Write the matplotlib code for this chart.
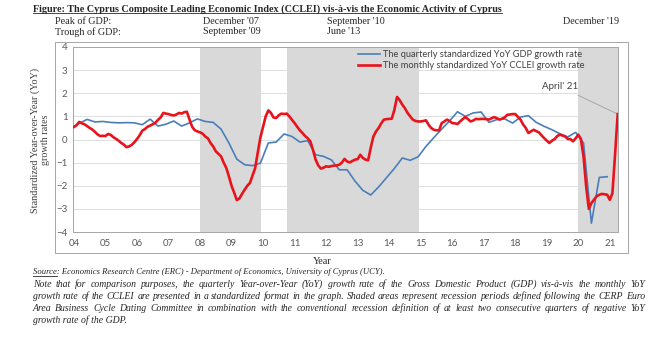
import numpy as np
import pandas as pd
import matplotlib
matplotlib.use("Agg")
import matplotlib.pyplot as plt
from matplotlib.patches import Rectangle
from matplotlib.lines import Line2D

# monthly standardized YoY CCLEI growth rate, Jan 2004 - Apr 2021
cclei = [
    0.54, 0.62, 0.76, 0.70, 0.66, 0.58, 0.50, 0.43, 0.33, 0.22, 0.15, 0.16,   # 2004
    0.15, 0.24, 0.20, 0.10, 0.03, -0.05, -0.15, -0.22, -0.33, -0.30, -0.23, -0.12,  # 2005
    0.02, 0.18, 0.38, 0.45, 0.55, 0.60, 0.66, 0.72, 0.85, 0.95, 1.15, 1.12,   # 2006
    1.10, 1.06, 1.04, 1.08, 1.15, 1.12, 1.18, 1.20, 0.86, 0.55, 0.40, 0.35,   # 2007
    0.31, 0.25, 0.13, 0.05, -0.15, -0.30, -0.51, -0.62, -0.73, -1.00, -1.23, -1.60,  # 2008
    -2.00, -2.30, -2.62, -2.55, -2.35, -2.17, -2.00, -1.88, -1.55, -1.23, -0.55, 0.10,  # 2009
    0.55, 1.00, 1.26, 1.15, 0.95, 0.93, 1.05, 1.12, 1.10, 1.12, 1.00, 0.85,   # 2010
    0.71, 0.55, 0.40, 0.28, 0.15, 0.05, -0.08, -0.45, -0.87, -1.12, -1.26, -1.22,  # 2011
    -1.16, -1.18, -1.15, -1.13, -1.12, -1.09, -1.00, -0.84, -0.95, -0.99, -0.93, -0.87,  # 2012
    -0.85, -0.66, -0.80, -0.87, -0.90, -0.35, 0.13, 0.35, 0.50, 0.70, 0.86, 0.88,  # 2013
    0.89, 0.90, 1.29, 1.84, 1.70, 1.51, 1.35, 1.15, 1.00, 0.86, 0.80, 0.78,   # 2014
    0.78, 0.80, 0.83, 0.64, 0.50, 0.42, 0.40, 0.39, 0.71, 0.78, 0.86, 0.80,   # 2015
    0.71, 0.70, 0.67, 0.78, 0.88, 0.97, 0.88, 0.78, 0.82, 0.89, 0.88, 0.89,   # 2016
    0.89, 0.88, 0.86, 0.92, 0.97, 0.92, 0.86, 0.90, 0.96, 1.07, 1.08, 1.10,   # 2017
    1.10, 0.98, 0.86, 0.65, 0.50, 0.28, 0.35, 0.42, 0.36, 0.31, 0.18, 0.06,   # 2018
    -0.05, -0.15, -0.05, 0.02, 0.15, 0.21, 0.17, 0.13, 0.02, 0.02, -0.08, 0.05,  # 2019
    0.21, 0.02, -0.73, -2.03, -3.00, -2.75, -2.60, -2.45, -2.39, -2.35, -2.37, -2.39,  # 2020
    -2.61, -2.32, -0.66, 1.10,  # 2021
]
cclei_months = pd.period_range("2004-01", periods=len(cclei), freq="M")

# quarterly standardized YoY GDP growth rate, Q4 2003 - Q4 2020
gdp = [
    0.50,
    0.70, 0.87, 0.76, 0.78,
    0.74, 0.72, 0.73, 0.72,
    0.64, 0.88, 0.58, 0.66,
    0.80, 0.58, 0.72, 0.89,
    0.78, 0.74, 0.45, -0.15,
    -0.85, -1.09, -1.13, -1.02,
    -0.15, -0.11, 0.24, 0.13,
    -0.11, -0.05, -0.66, -0.73,
    -0.88, -1.31, -1.31, -1.80,
    -2.20, -2.40, -2.05, -1.65,
    -1.25, -0.80, -0.90, -0.75,
    -0.30, 0.08, 0.45, 0.80,
    1.20, 1.00, 1.15, 1.19,
    0.74, 0.86, 0.89, 0.71,
    0.97, 1.03, 0.74, 0.57,
    0.42, 0.25, 0.11, 0.31,
    -0.15, -3.62, -1.64, -1.61,
]
gdp_quarters = pd.period_range("2003Q4", periods=len(gdp), freq="Q")

# recession periods (start month, end month)
recessions = [("2008-01", "2009-12"), ("2010-10", "2014-12"), ("2020-01", "2021-05")]

xticks = list(range(2004, 2022))
xticklabels = [f"{y % 100:02d}" for y in xticks]


def month_pos(p):
    return p.year + (p.month - 1) / 12.0


x_cclei = [month_pos(p) for p in cclei_months]
x_gdp = [month_pos(q.asfreq("M", how="end")) for q in gdp_quarters]

serif = ["Liberation Serif", "DejaVu Serif"]
sans = ["Lato", "DejaVu Sans"]
W, H = 660, 353

fig = plt.figure(figsize=(6.6, 3.53), dpi=100)
ax = fig.add_axes([73 / W, 1 - 232 / H, 545 / W, 185 / H])

for a, b in recessions:
    ax.axvspan(month_pos(pd.Period(a, "M")), month_pos(pd.Period(b, "M")) + 0.02,
               color="#d9d9d9", lw=0, zorder=0)

ax.plot(x_gdp, gdp, color="#4a7ebb", lw=1.2, zorder=3,
        label="The quarterly standardized YoY GDP growth rate")
ax.plot(x_cclei, cclei, color="#e8141c", lw=1.9, zorder=4,
        label="The monthly standardized YoY CCLEI growth rate")

ax.set_xlim(2003.97, 2021.26)
ax.set_ylim(-4, 4)
ax.set_yticks(range(-4, 5))
ax.set_xticks(xticks)
ax.set_xticklabels(xticklabels)
ax.yaxis.grid(True, color="#d9d9d9", lw=0.6)
ax.set_axisbelow(True)
ax.tick_params(length=0, labelsize=7, colors="#595959")
ax.tick_params(axis="y", pad=4)
ax.tick_params(axis="x", pad=5)
for lab in ax.get_xticklabels() + ax.get_yticklabels():
    lab.set_family(sans)
for s in ax.spines.values():
    s.set_color("#a6a6a6")
    s.set_linewidth(0.7)

leg = ax.legend(loc="upper left", bbox_to_anchor=((357 - 73) / 545, 1 - 2 / 185),
                frameon=False, borderpad=0.1, borderaxespad=0, handlelength=2.4,
                handletextpad=0.3, labelspacing=0.2, prop={"family": sans, "size": 6.7})
for t in leg.get_texts():
    t.set_color("#404040")

ax.annotate("April' 21", xy=(x_cclei[-1], cclei[-1]), xytext=(2020.0, 2.28),
            ha="right", va="center", fontsize=7, family=sans, color="#404040",
            arrowprops=dict(arrowstyle="-", color="#a0a0a0", lw=0.6, shrinkA=2, shrinkB=0))

# outer chart frame
fig.patches.append(Rectangle((55 / W, 1 - 253 / H), 573 / W, 211 / H, transform=fig.transFigure,
                             fill=False, edgecolor="#a6a6a6", lw=0.7))

fig.text(40 / W, 1 - 140 / H, "Standardized Year-over-Year (YoY)\ngrowth rates", rotation=90,
         ha="center", va="center", multialignment="center", fontsize=7.3, family=serif,
         color="#404040")
fig.text(322 / W, 1 - 262 / H, "Year", ha="center", va="center", fontsize=7.3,
         family=serif, color="#262626")

title = fig.text(33 / W, 1 - 9 / H,
                 "Figure: The Cyprus Composite Leading Economic Index (CCLEI) vis-à-vis the Economic Activity of Cyprus",
                 ha="left", va="center", fontsize=7.3, family=serif, weight="bold", color="#262626")

rows = [("Peak of GDP:", "December '07", "September '10", "December '19"),
        ("Trough of GDP:", "September '09", "June '13", "")]
for r, row in enumerate(rows):
    y = 1 - (21 + 11 * r) / H
    for x, s in zip([55, 203, 327, 563], row):
        fig.text(x / W, y, s, ha="left", va="center", fontsize=7.3, family=serif, color="#262626")

src = "Source: Economics Research Centre (ERC) - Department of Economics, University of Cyprus (UCY)."
notes = [
    "Note that for comparison purposes, the quarterly Year-over-Year (YoY) growth rate of the Gross Domestic Product (GDP) vis-à-vis the monthly YoY",
    "growth rate of the CCLEI are presented in a standardized format in the graph. Shaded areas represent recession periods defined following the CERP Euro",
    "Area Business Cycle Dating Committee in combination with the conventional recession definition of at least two consecutive quarters of negative YoY",
    "growth rate of the GDP.",
]
note_kw = dict(va="baseline", fontsize=7.05, family=serif, style="italic", color="#262626")

r = fig.canvas.get_renderer()
src_t = fig.text(33 / W, 1 - 274.5 / H, src, ha="left", va="baseline", fontsize=6.2,
                 family=serif, style="italic", color="#262626")


def justify(line, ypix, x0, x1):
    words = line.split(" ")
    texts = [fig.text(0, 1 - ypix / H, w, ha="left", **note_kw) for w in words]
    widths = [t.get_window_extent(r).width for t in texts]
    gap = (x1 - x0 - sum(widths)) / (len(words) - 1)
    x = x0
    for t, w in zip(texts, widths):
        t.set_x(x / W)
        x += w + gap


for i, s in enumerate(notes):
    ypix = 287 + 12 * i
    if i < len(notes) - 1:
        justify(s, ypix, 33, 645)
    else:
        fig.text(33 / W, 1 - ypix / H, s, ha="left", **note_kw)

# underlines
fig.canvas.draw()
tmp = fig.text(33 / W, 1 - 274.5 / H, "Source", ha="left", va="baseline", fontsize=6.2,
               family=serif, style="italic")
bb_src = tmp.get_window_extent(r)
tmp.remove()
bb_title = title.get_window_extent(r)
for bb in (bb_title, bb_src):
    yl = bb.y0 + 0.5
    fig.lines.append(Line2D([bb.x0, bb.x1], [yl, yl], transform=None, color="#262626", lw=0.6))

fig.savefig("out.png", dpi=100)
